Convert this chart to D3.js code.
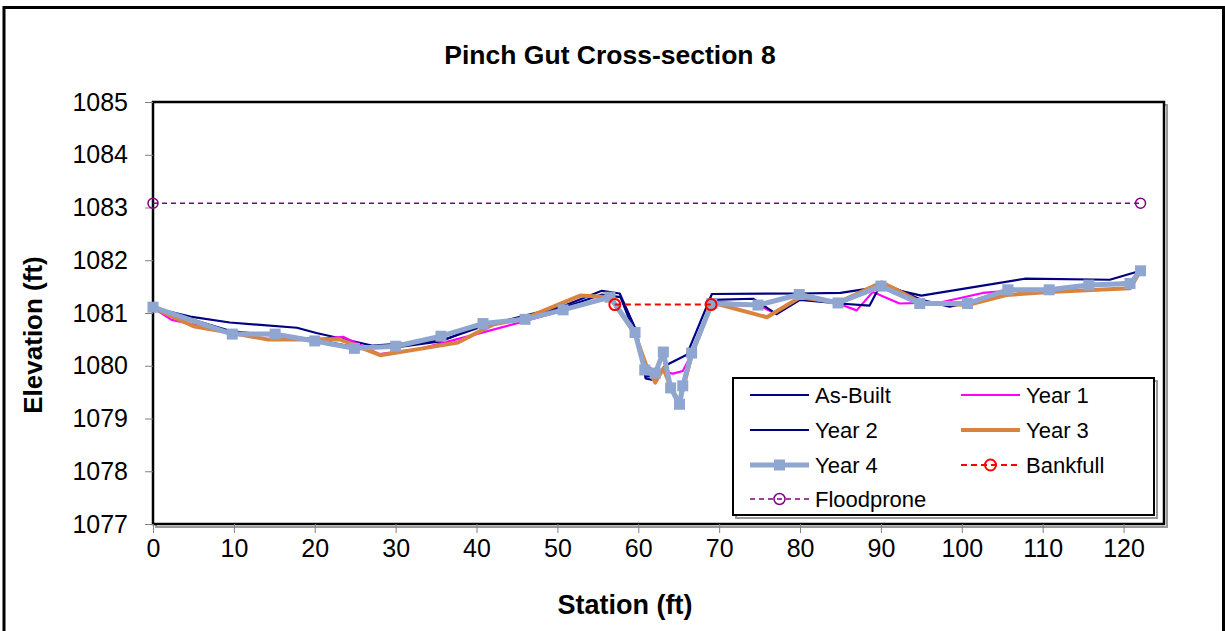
<!DOCTYPE html>
<html><head><meta charset="utf-8">
<script src="https://cdn.jsdelivr.net/npm/d3@7"></script>
<style>body{margin:0;background:#fff}svg{display:block;font-family:Arial,"Liberation Sans",sans-serif}</style>
</head><body><svg id="c" width="1225" height="631"></svg>
<script>
const chartTitle = "Pinch Gut Cross-section 8";
const xTicks = [0,10,20,30,40,50,60,70,80,90,100,110,120];
const yTicks = [1077,1078,1079,1080,1081,1082,1083,1084,1085];

const asBuiltStation = [0,4.6,9.5,17.8,20.2,27.2,35.5,40.8,46.5,50.5,55.5,57.7,59.8,60.9,62.1,63.3,66.0,69.1,80,85,90.1,95,107.8,118.3,122.1];
const asBuiltElev    = [1081.1,1080.93,1080.82,1080.72,1080.62,1080.38,1080.47,1080.75,1080.97,1081.12,1081.42,1081.37,1080.65,1079.76,1079.72,1080.0,1080.21,1081.36,1081.37,1081.38,1081.5,1081.33,1081.65,1081.63,1081.8];

const year1Station = [0,2.3,9.8,15,20,23.5,28,33,40,45.4,50.7,56.5,59.6,61,62.1,63.1,64.3,65.5,66.6,69.1,74.8,77.1,80,84.7,87.0,89,92.3,97.3,102.6,105.7,110.8,115.7,120.8,122.1];
const year1Elev    = [1081.1,1080.87,1080.63,1080.57,1080.5,1080.55,1080.22,1080.32,1080.6,1080.82,1081.05,1081.28,1080.62,1080.0,1079.9,1079.88,1079.85,1079.9,1080.22,1081.22,1081.15,1080.98,1081.3,1081.18,1081.05,1081.4,1081.18,1081.2,1081.38,1081.42,1081.43,1081.52,1081.56,1081.8];

const year2Station = [0,9.8,15,20,25,30,35.5,40.8,46,50.7,55.5,57.8,59.6,61,62,63,64,65,65.5,66.6,69.1,74.2,77.1,80,84.9,88.6,90.1,95,98.5,101,106,111,116,121,122.1];
const year2Elev    = [1081.1,1080.65,1080.58,1080.5,1080.35,1080.35,1080.46,1080.78,1080.92,1081.1,1081.35,1081.3,1080.6,1079.8,1079.8,1080.2,1079.6,1079.3,1079.6,1080.2,1081.25,1081.27,1080.98,1081.25,1081.18,1081.14,1081.58,1081.25,1081.12,1081.2,1081.44,1081.44,1081.54,1081.58,1081.8];

const year3Station = [0,5,9.8,14.1,20,23.1,28.1,33,37.7,42,46,52.8,56.5,59.6,61,62.1,63.1,64,65.1,65.5,66.6,69.1,75.9,80,84.7,90.1,95,100.7,105.5,110.8,120.8,122.1];
const year3Elev    = [1081.1,1080.75,1080.62,1080.5,1080.5,1080.5,1080.2,1080.32,1080.44,1080.78,1080.9,1081.33,1081.3,1080.6,1080.0,1079.68,1079.95,1079.6,1079.3,1079.55,1080.2,1081.2,1080.92,1081.3,1081.2,1081.58,1081.2,1081.15,1081.34,1081.4,1081.47,1081.8];

const year4Station = [0,9.8,15.1,20.0,24.9,30.0,35.6,40.8,46.0,50.7,56.5,59.6,60.8,62.1,63.1,64.0,65.1,65.5,66.6,69.1,74.8,79.9,84.7,90.0,94.8,100.7,105.7,110.8,115.7,120.8,122.1];
const year4Elev    = [1081.11,1080.6,1080.6,1080.47,1080.33,1080.37,1080.56,1080.8,1080.88,1081.06,1081.3,1080.63,1079.92,1079.86,1080.26,1079.58,1079.27,1079.62,1080.24,1081.18,1081.15,1081.35,1081.19,1081.51,1081.18,1081.18,1081.44,1081.44,1081.53,1081.56,1081.8];

const bankfullStation = [57.1,69.0];
const bankfullElev    = [1081.16,1081.16];
const floodproneStation = [0,122.1];
const floodproneElev    = [1083.08,1083.08];

const zip = (s,e) => s.map((v,i)=>[v,e[i]]);

const svg = d3.select("#c");
const W=1225,H=631;
svg.append("rect").attr("x",0).attr("y",0).attr("width",W).attr("height",H).attr("fill","#fff");
svg.append("rect").attr("x",4).attr("y",7.5).attr("width",1219.5).attr("height",640)
  .attr("fill","none").attr("stroke","#000").attr("stroke-width",3);

const L=153,R=1164,T=102,B=524;
const x=d3.scaleLinear().domain([0,125]).range([L,R]);
const y=d3.scaleLinear().domain([1077,1085]).range([B,T]);

// plot area shadow + border
svg.append("rect").attr("x",L+3).attr("y",T+3).attr("width",R-L).attr("height",B-T)
  .attr("fill","none").attr("stroke","#9a9a9a").attr("stroke-width",2);
svg.append("rect").attr("x",L).attr("y",T).attr("width",R-L).attr("height",B-T)
  .attr("fill","#fff").attr("stroke","#000").attr("stroke-width",2.5);

// axes
const ya=svg.append("g").attr("transform",`translate(${L},0)`)
  .call(d3.axisLeft(y).tickValues(yTicks).tickSize(8).tickPadding(17).tickFormat(d3.format("d")));
const xa=svg.append("g").attr("transform",`translate(0,${B})`)
  .call(d3.axisBottom(x).tickValues(xTicks).tickSize(9).tickPadding(6).tickFormat(d3.format("d")));
[ya,xa].forEach(g=>{
  g.select(".domain").remove();
  g.selectAll(".tick line").attr("stroke","#808080").attr("stroke-width",1);
  g.selectAll(".tick text").attr("fill","#000").style("font-size","25px").style("font-family","Arial, 'Liberation Sans', sans-serif");
});

const line=d3.line().x(d=>x(d[0])).y(d=>y(d[1]));
const plot=svg.append("g");
function drawLine(data,color,w,dash){
  plot.append("path").datum(data).attr("d",line).attr("fill","none")
    .attr("stroke",color).attr("stroke-width",w).attr("stroke-linejoin","round")
    .attr("stroke-dasharray",dash||null);
}
const cNavy="#000080",cMag="#FF00FF",cOr="#D9843E",cY4="#8FA6D0",cRed="#FF0000",cPur="#800080";
drawLine(zip(asBuiltStation,asBuiltElev),cNavy,2.2);
drawLine(zip(year1Station,year1Elev),cMag,2.2);
drawLine(zip(year2Station,year2Elev),cNavy,2.2);
drawLine(zip(year3Station,year3Elev),cOr,4);
const y4=zip(year4Station,year4Elev);
drawLine(y4,cY4,5);
plot.selectAll("rect.y4").data(y4).enter().append("rect").attr("class","y4")
  .attr("x",d=>x(d[0])-5.5).attr("y",d=>y(d[1])-5.5).attr("width",11).attr("height",11).attr("fill",cY4);
const bf=zip(bankfullStation,bankfullElev);
drawLine(bf,cRed,2,"6,4");
plot.selectAll("circle.bf").data(bf).enter().append("circle")
  .attr("cx",d=>x(d[0])).attr("cy",d=>y(d[1])).attr("r",5.5).attr("fill","none").attr("stroke",cRed).attr("stroke-width",2);
const fp=zip(floodproneStation,floodproneElev);
drawLine(fp,cPur,1.5,"5,4");
plot.selectAll("circle.fp").data(fp).enter().append("circle")
  .attr("cx",d=>x(d[0])).attr("cy",d=>y(d[1])).attr("r",5).attr("fill","none").attr("stroke",cPur).attr("stroke-width",1.5);

// titles
svg.append("text").attr("x",610).attr("y",64).attr("text-anchor","middle")
  .style("font-size","26.5px").style("font-weight","bold").text(chartTitle);
svg.append("text").attr("x",625).attr("y",614).attr("text-anchor","middle")
  .style("font-size","27px").style("font-weight","bold").text("Station (ft)");
svg.append("text").attr("transform","translate(42,335) rotate(-90)").attr("text-anchor","middle")
  .style("font-size","26px").style("font-weight","bold").text("Elevation (ft)");

// legend
const lg=svg.append("g");
const lx=733,ly=378,lw=421,lh=137;
lg.append("rect").attr("x",lx+3).attr("y",ly+3).attr("width",lw).attr("height",lh).attr("fill","none").attr("stroke","#9a9a9a").attr("stroke-width",2);
lg.append("rect").attr("x",lx).attr("y",ly).attr("width",lw).attr("height",lh).attr("fill","#fff").attr("stroke","#000").attr("stroke-width",2);
const legendItems=[
  {name:"As-Built",c:cNavy,w:2.2,col:0,row:0},
  {name:"Year 1",c:cMag,w:2.2,col:1,row:0},
  {name:"Year 2",c:cNavy,w:2.2,col:0,row:1},
  {name:"Year 3",c:cOr,w:4,col:1,row:1},
  {name:"Year 4",c:cY4,w:5,col:0,row:2,m:"sq"},
  {name:"Bankfull",c:cRed,w:2,col:1,row:2,m:"ci",dash:"6,4"},
  {name:"Floodprone",c:cPur,w:1.5,col:0,row:3,m:"ci",dash:"5,4"}
];
const colX=[750,961],rowY=[395,430,465,499];
legendItems.forEach(it=>{
  const x0=colX[it.col],yy=rowY[it.row];
  lg.append("line").attr("x1",x0).attr("x2",x0+59).attr("y1",yy).attr("y2",yy)
    .attr("stroke",it.c).attr("stroke-width",it.w).attr("stroke-dasharray",it.dash||null);
  if(it.m==="sq") lg.append("rect").attr("x",x0+29.5-5.5).attr("y",yy-5.5).attr("width",11).attr("height",11).attr("fill",it.c);
  if(it.m==="ci") lg.append("circle").attr("cx",x0+29.5).attr("cy",yy).attr("r",5.5).attr("fill","none").attr("stroke",it.c).attr("stroke-width",it.w);
  lg.append("text").attr("x",x0+65).attr("y",yy+8).style("font-size","22px").text(it.name);
});
</script></body></html>
